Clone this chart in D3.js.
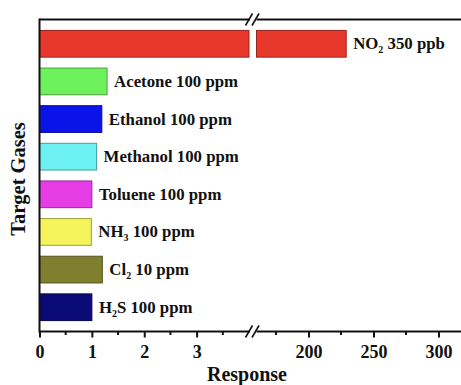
<!DOCTYPE html>
<html>
<head>
<meta charset="utf-8">
<script src="https://cdn.jsdelivr.net/npm/d3@7"></script>
<style>
  body { margin: 0; background: #fff; }
  svg text { font-family: "Liberation Serif", "Times New Roman", serif; font-weight: bold; fill: #111; }
</style>
</head>
<body>
<div id="chart"></div>
<script>
// gases, top to bottom
const gasBase = ["NO", "Acetone", "Ethanol", "Methanol", "Toluene", "NH", "Cl", "H"];
const gasSub = ["2", "", "", "", "", "3", "2", "2"];
const gasRest = ["", "", "", "", "", "", "", "S"];
const concLabels = ["350 ppb", "100 ppm", "100 ppm", "100 ppm", "100 ppm", "100 ppm", "10 ppm", "100 ppm"];
const responses = [229, 1.29, 1.19, 1.09, 1.0, 0.99, 1.2, 1.0];
const colors = ["#e8382b", "#6ef25c", "#0a14e8", "#6cf0f2", "#e63ee6", "#f6f45c", "#7f7f30", "#0b0b78"];

const lowTicks = [0, 1, 2, 3];
const lowMinor = [0.5, 1.5, 2.5, 3.5];
const highTicks = [200, 250, 300];
const highMinor = [175, 225, 275];

const W = 461, H = 385;
const mLeft = 39.5, mTop = 19.5, mBottom = 331.5;
const breakA = 249, breakB = 256.5;

const svg = d3.select("#chart").append("svg")
  .attr("width", W).attr("height", H);

const xLow = d3.scaleLinear().domain([0, 4]).range([mLeft, breakA]);
const xHigh = d3.scaleLinear().domain([160, 320]).range([breakB, 464.5]);
const y = d3.scaleBand().domain(d3.range(gasBase.length)).range([mTop, mBottom]).padding(0.29);

const data = gasBase.map((b, i) => ({ i, base: b, sub: gasSub[i], rest: gasRest[i], conc: concLabels[i], v: responses[i], c: colors[i] }));

// bars: values beyond the break get two pieces
const bars = svg.append("g");
data.forEach(d => {
  const c = d3.color(d.c).darker(1.2);
  if (d.v <= 4) {
    bars.append("rect")
      .attr("x", xLow(0)).attr("y", y(d.i))
      .attr("width", xLow(d.v) - xLow(0)).attr("height", y.bandwidth())
      .attr("fill", d.c).attr("stroke", c).attr("stroke-width", 1);
  } else {
    bars.append("rect")
      .attr("x", xLow(0)).attr("y", y(d.i))
      .attr("width", xLow(4) - xLow(0)).attr("height", y.bandwidth())
      .attr("fill", d.c).attr("stroke", c).attr("stroke-width", 1);
    bars.append("rect")
      .attr("x", xHigh(160)).attr("y", y(d.i))
      .attr("width", xHigh(d.v) - xHigh(160)).attr("height", y.bandwidth())
      .attr("fill", d.c).attr("stroke", c).attr("stroke-width", 1);
  }
});

// bar labels
const lab = svg.append("g").selectAll("text").data(data).join("text")
  .attr("x", d => (d.v <= 4 ? xLow(d.v) : xHigh(d.v)) + 7)
  .attr("y", d => y(d.i) + y.bandwidth() / 2 + 5.5)
  .style("font-size", "16.8px");
lab.append("tspan").text(d => d.base);
lab.append("tspan").text(d => d.sub).style("font-size", "10px").attr("dy", d => d.sub ? 4 : 0);
lab.append("tspan").text(d => d.rest + " " + d.conc).attr("dy", d => d.sub ? -4 : 0);

// frame: top line and left axis
svg.append("line").attr("x1", mLeft).attr("x2", W).attr("y1", mTop).attr("y2", mTop)
  .attr("stroke", "#111").attr("stroke-width", 2);
svg.append("line").attr("x1", mLeft).attr("x2", mLeft).attr("y1", mTop - 1).attr("y2", mBottom + 1)
  .attr("stroke", "#111").attr("stroke-width", 2);

// bottom axis, two segments
const axLow = d3.axisBottom(xLow).tickValues(lowTicks).tickFormat(d3.format("d")).tickSize(6).tickSizeOuter(0);
const axHigh = d3.axisBottom(xHigh).tickValues(highTicks).tickFormat(d3.format("d")).tickSize(6).tickSizeOuter(0);
[[axLow, xLow, lowMinor], [axHigh, xHigh, highMinor]].forEach(([ax, sc, minor]) => {
  const g = svg.append("g").attr("transform", `translate(0,${mBottom})`).call(ax);
  g.select(".domain").remove();
  g.selectAll(".tick line").attr("stroke", "#111").attr("stroke-width", 2);
  g.selectAll(".tick text").attr("y", 14).style("font-size", "18px")
    .style("font-family", "'Liberation Serif', serif").style("font-weight", "bold").attr("fill", "#111");
  g.selectAll(".minor").data(minor).join("line").attr("class", "minor")
    .attr("x1", sc).attr("x2", sc).attr("y1", 0).attr("y2", 3.5)
    .attr("stroke", "#111").attr("stroke-width", 2);
});
svg.append("line").attr("x1", mLeft).attr("x2", W).attr("y1", mBottom).attr("y2", mBottom)
  .attr("stroke", "#111").attr("stroke-width", 2);

// break marks on top line and axis line
[mTop, mBottom].forEach(yy => {
  svg.append("rect").attr("x", breakA + 1).attr("y", yy - 2).attr("width", breakB - breakA - 1).attr("height", 4).attr("fill", "#fff");
  [breakA, breakB - 1].forEach(bx => {
    svg.append("line").attr("x1", bx - 3.5).attr("y1", yy + 6).attr("x2", bx + 3.5).attr("y2", yy - 6)
      .attr("stroke", "#111").attr("stroke-width", 1.6);
  });
});

// axis titles
svg.append("text").attr("x", 247).attr("y", 381).attr("text-anchor", "middle")
  .style("font-size", "20px").text("Response");
svg.append("text").attr("transform", "translate(25,179) rotate(-90)").attr("text-anchor", "middle")
  .style("font-size", "20.5px").text("Target Gases");
</script>
</body>
</html>
